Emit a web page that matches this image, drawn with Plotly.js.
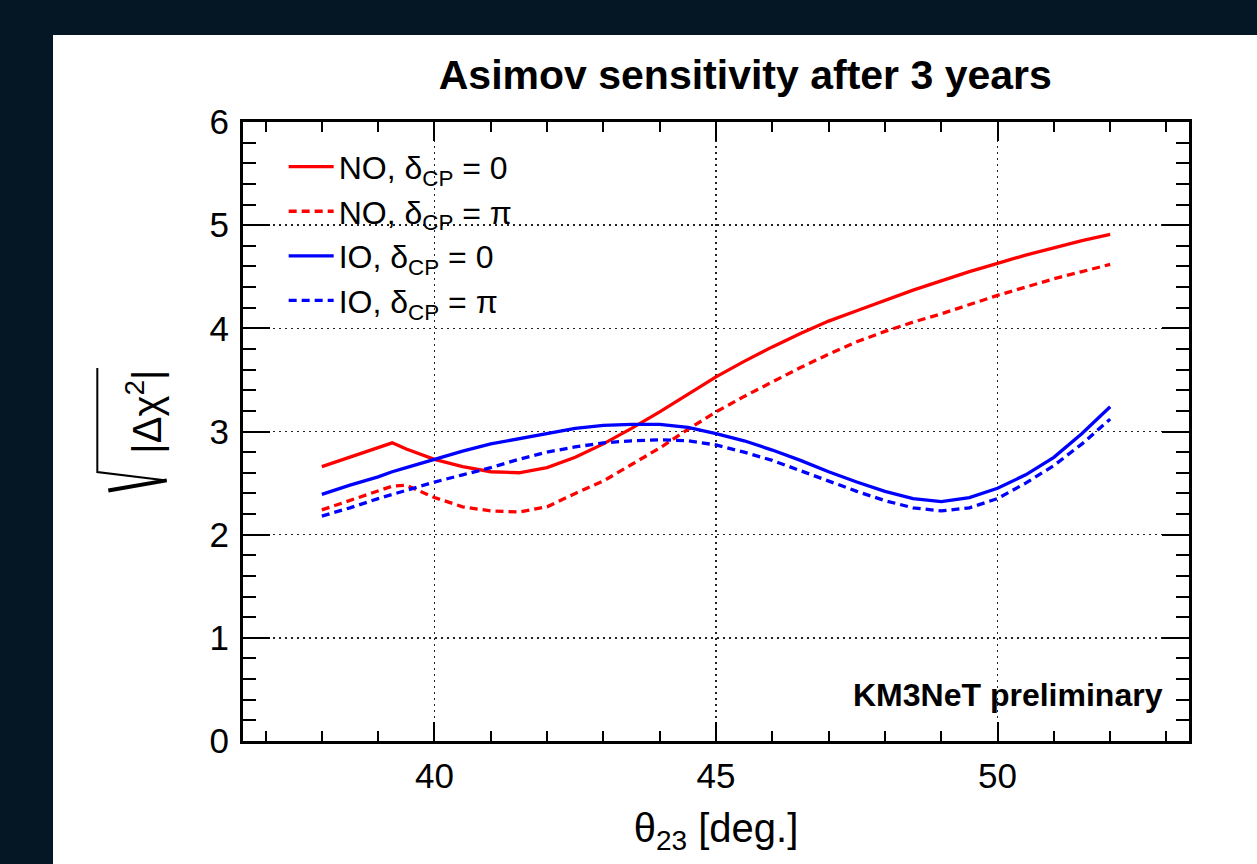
<!DOCTYPE html>
<html>
<head>
<meta charset="utf-8">
<script src="https://cdn.plot.ly/plotly-3.0.1.min.js"></script>
<style>
  html, body { margin: 0; padding: 0; background: #051624; width: 1257px; height: 864px; overflow: hidden; }
  #chart { position: absolute; left: 53px; top: 35px; width: 1204px; height: 829px; background: #ffffff; }
</style>
</head>
<body>
<div id="chart"></div>
<script>
// theta23 grid (degrees)
const theta = [38, 38.5, 39, 39.25, 39.5, 40, 40.5, 41, 41.5, 42, 42.5, 43, 43.5, 44, 44.5, 45, 45.5, 46, 46.5, 47, 47.5, 48, 48.5, 49, 49.5, 50, 50.5, 51, 51.5, 52];

// sqrt(|delta chi^2|) per scenario
const noDelta0  = [2.66, 2.75, 2.84, 2.89, 2.83, 2.73, 2.66, 2.61, 2.60, 2.65, 2.75, 2.88, 3.03, 3.19, 3.36, 3.53, 3.68, 3.82, 3.95, 4.07, 4.17, 4.27, 4.37, 4.46, 4.55, 4.63, 4.71, 4.78, 4.85, 4.91];
const noDeltaPi = [2.24, 2.33, 2.42, 2.47, 2.48, 2.36, 2.27, 2.23, 2.22, 2.27, 2.40, 2.52, 2.68, 2.84, 3.02, 3.19, 3.34, 3.48, 3.62, 3.75, 3.87, 3.97, 4.06, 4.14, 4.23, 4.32, 4.40, 4.48, 4.55, 4.62];
const ioDelta0  = [2.39, 2.48, 2.56, 2.61, 2.65, 2.73, 2.81, 2.88, 2.93, 2.98, 3.03, 3.06, 3.07, 3.07, 3.04, 2.98, 2.91, 2.82, 2.72, 2.61, 2.51, 2.42, 2.35, 2.32, 2.36, 2.45, 2.58, 2.75, 2.98, 3.24];
const ioDeltaPi = [2.18, 2.26, 2.35, 2.39, 2.43, 2.51, 2.58, 2.65, 2.73, 2.80, 2.85, 2.89, 2.91, 2.92, 2.91, 2.87, 2.80, 2.72, 2.62, 2.52, 2.42, 2.33, 2.26, 2.23, 2.26, 2.35, 2.50, 2.67, 2.88, 3.12];

const seriesNames = ["NO, δ<sub>CP</sub> = 0", "NO, δ<sub>CP</sub> = π", "IO, δ<sub>CP</sub> = 0", "IO, δ<sub>CP</sub> = π"];

const FONT = "Liberation Sans, Arial, Helvetica, sans-serif";

function tr(y, name, color, dash) {
  return { x: theta, y: y, name: name, type: "scatter", mode: "lines",
           line: { color: color, width: 3.3, dash: dash } };
}

const data = [
  tr(noDelta0,  seriesNames[0], "#ff0000", "solid"),
  tr(noDeltaPi, seriesNames[1], "#ff0000", "8px,5px"),
  tr(ioDelta0,  seriesNames[2], "#0000ff", "solid"),
  tr(ioDeltaPi, seriesNames[3], "#0000ff", "8px,5px")
];

const axisCommon = {
  showline: true, linecolor: "#000", linewidth: 3, mirror: "allticks",
  ticks: "inside", tickcolor: "#000", tickwidth: 2,
  showgrid: true, gridcolor: "#222", gridwidth: 1.5, griddash: "2px,4px",
  zeroline: false,
  tickfont: { family: FONT, size: 35, color: "#000" }
};

const layout = {
  width: 1204, height: 829,
  paper_bgcolor: "#ffffff", plot_bgcolor: "#ffffff",
  margin: { l: 190, r: 68, t: 87, b: 123 },
  showlegend: true,
  title: { text: "<b>Asimov sensitivity after 3 years</b>", x: 0.575, xref: "container", xanchor: "center",
           y: 0.952, yref: "container", yanchor: "middle",
           font: { family: FONT, size: 41, color: "#000" } },
  xaxis: Object.assign({}, axisCommon, {
    range: [36.6, 53.4], tick0: 0, dtick: 5, ticklen: 19, ticklabelstandoff: 2,
    minor: { dtick: 1, tick0: 0, ticklen: 10, tickwidth: 2, tickcolor: "#000", ticks: "inside", showgrid: false },
    title: { text: "θ<sub>23</sub> [deg.]", standoff: 20, font: { family: FONT, size: 40, color: "#000" } },
    automargin: false
  }),
  yaxis: Object.assign({}, axisCommon, {
    range: [0, 6], tick0: 0, dtick: 1, ticklen: 27, ticklabelstandoff: 4,
    minor: { dtick: 0.2, tick0: 0, ticklen: 13, tickwidth: 2, tickcolor: "#000", ticks: "inside", showgrid: false },
    automargin: false
  }),
  legend: {
    x: 0.043, y: 0.972, xanchor: "left", yanchor: "top",
    bgcolor: "rgba(0,0,0,0)", borderwidth: 0,
    font: { family: FONT, size: 32, color: "#000" },
    itemwidth: 45, tracegroupgap: 0
  },
  annotations: [
    { text: "<b>KM3NeT preliminary</b>", xref: "paper", yref: "paper", x: 0.9745, y: 0.074,
      xanchor: "right", yanchor: "middle", showarrow: false,
      font: { family: FONT, size: 32, color: "#000" } },
    { text: "|Δχ<sup>2</sup>|", xref: "paper", yref: "paper", x: -0.1047, y: 0.532,
      xanchor: "center", yanchor: "middle", textangle: -90, showarrow: false,
      font: { family: FONT, size: 40, color: "#000" } }
  ],
  shapes: [
    { type: "path", xref: "paper", yref: "paper",
      path: "M -0.1540 0.6027 L -0.1540 0.4344 L -0.0807 0.4210",
      line: { color: "#000", width: 2 } },
    { type: "path", xref: "paper", yref: "paper",
      path: "M -0.0807 0.4210 L -0.1424 0.4048",
      line: { color: "#000", width: 4 } }
  ]
};

Plotly.newPlot("chart", data, layout, { displayModeBar: false, staticPlot: true });
</script>
</body>
</html>
